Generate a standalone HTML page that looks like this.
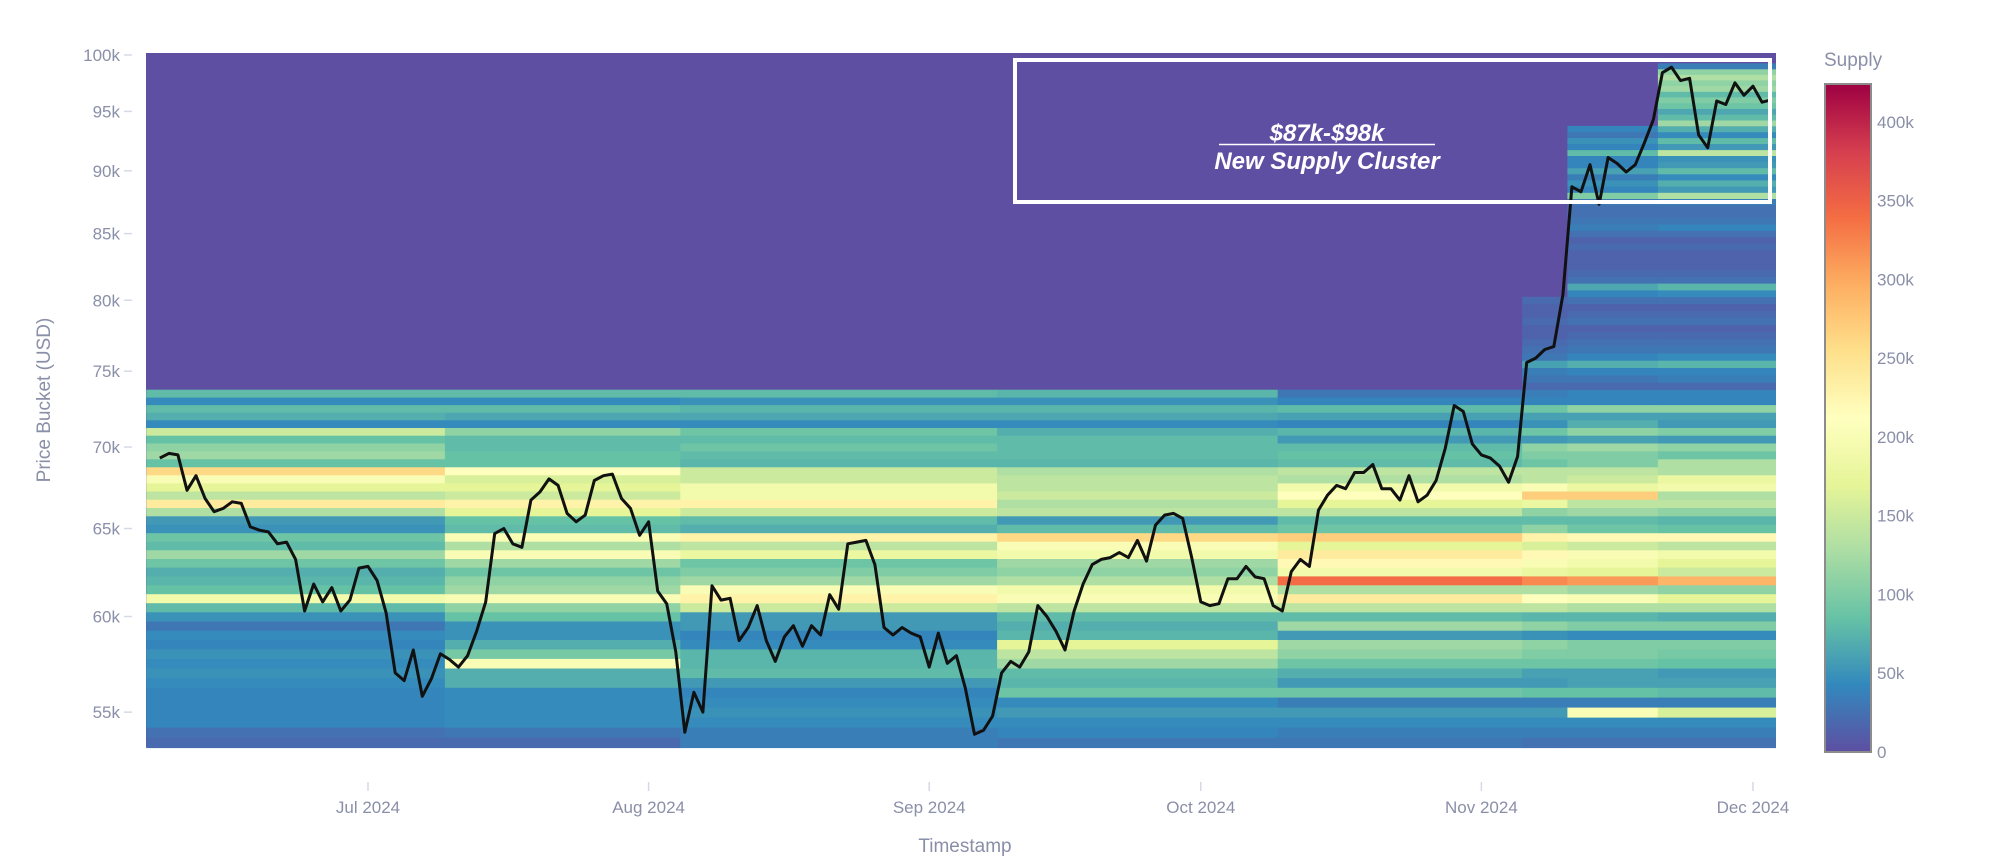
<!DOCTYPE html>
<html><head><meta charset="utf-8">
<style>
html,body{margin:0;padding:0;background:#fff;}
svg{display:block;font-family:"Liberation Sans",sans-serif;}
</style></head>
<body>
<svg id="chart" width="2000" height="867" viewBox="0 0 2000 867" xmlns="http://www.w3.org/2000/svg">
  <rect x="146" y="53" width="1630" height="694" fill="#5e4fa2"/>
  <g id="cells"></g>
  <g id="line"></g>
  <g id="yaxis"></g>
  <g id="xaxis"></g>
  <text transform="translate(50,400) rotate(-90)" text-anchor="middle" font-size="19" fill="#8a8fa8">Price Bucket (USD)</text>
  <text x="965" y="852" text-anchor="middle" font-size="19" fill="#8a8fa8">Timestamp</text>
  <g>
    <rect x="1015" y="60" width="755" height="142" fill="none" stroke="#fff" stroke-width="4"/>
    <text x="1327" y="141" text-anchor="middle" font-size="24" font-weight="bold" font-style="italic" fill="#fff">$87k-$98k</text>
    <line x1="1219" y1="144.5" x2="1435" y2="144.5" stroke="#fff" stroke-width="1.5"/>
    <text x="1327" y="169" text-anchor="middle" font-size="24" font-weight="bold" font-style="italic" fill="#fff">New Supply Cluster</text>
  </g>
  <g id="cbar">
    <text x="1824" y="66" font-size="19" fill="#8a8fa8">Supply</text>
  </g>
</svg>
<script>
// ---- data ----
const priceJun = [69.3,69.6,69.5,67.3,68.2,66.8,66.0,66.2,66.6,66.5,65.1,64.9,64.8,64.1,64.2,63.2,60.3,61.8,60.8,61.6,60.3,60.9,62.7];
const priceJul = [62.8,62.0,60.2,57.0,56.6,58.2,55.8,56.7,58.0,57.7,57.3,57.9,59.2,60.8,64.7,65.0,64.1,63.9,66.7,67.2,68.0,67.6,65.9,65.4,65.8,67.9,68.2,68.3,66.8,66.2,64.6];
const priceAug = [65.4,61.4,60.7,58.1,54.0,56.0,55.0,61.7,60.9,61.0,58.7,59.4,60.6,58.7,57.6,58.9,59.5,58.4,59.5,59.0,61.2,60.4,64.1,64.2,64.3,62.9,59.4,59.0,59.4,59.1,58.9];
const priceSep = [57.3,59.1,57.5,57.9,56.2,53.9,54.1,54.8,57.0,57.6,57.3,58.1,60.6,60.0,59.2,58.2,60.3,61.8,62.9,63.2,63.3,63.6,63.3,64.3,63.1,65.2,65.8,65.9,65.6,63.3];
const priceOct = [60.8,60.6,60.7,62.1,62.1,62.8,62.2,62.1,60.6,60.3,62.5,63.2,62.8,66.1,67.0,67.6,67.4,68.4,68.4,68.9,67.4,67.4,66.7,68.2,66.6,67.0,67.9,69.9,72.7,72.3,70.2];
const priceNov = [69.5,69.3,68.8,67.8,69.4,75.6,75.9,76.5,76.7,80.4,88.7,88.3,90.5,87.3,91.1,90.6,89.9,90.5,92.3,94.3,98.4,98.9,97.7,97.9,93.0,91.9,95.9,95.6,97.5,96.4];
const priceDec = [97.2,95.8,96.0];
const priceStart = '2024-06-08';

// heatmap: buckets (k USD) and supply (k) per period
const heatStart = '2024-06-07';
const heatEnd = '2024-12-03';
const periodStarts = ['2024-06-07','2024-07-10','2024-08-05','2024-09-09','2024-10-10','2024-11-06','2024-11-11','2024-11-21'];
const lowerBuckets = [53.5,54,54.5,55,55.5,56,56.5,57,57.5,58,58.5,59,59.5,60,60.5,61,61.5,62,62.5,63,63.5,64,64.5,65,65.5,66,66.5,67,67.5,68,68.5,69,69.5,70,70.5,71,71.5,72,72.5,73,73.5];
const lowS0 = [20,25,40,40,40,40,45,50,45,50,40,45,30,50,80,190,85,75,70,90,120,80,90,50,55,130,240,140,170,200,260,85,120,110,85,150,45,70,80,45,80];
const lowS1 = [20,30,45,45,45,45,70,70,200,95,70,50,50,85,110,200,120,110,90,120,200,130,200,80,85,170,230,150,170,160,210,85,85,80,80,110,45,65,80,45,80];
const lowS2 = [35,35,45,50,45,40,55,80,75,75,45,40,55,55,150,230,200,120,100,90,180,140,230,70,80,150,230,190,190,150,150,75,80,90,80,90,45,65,75,50,80];
const lowS3 = [30,40,45,55,45,90,75,80,120,140,170,75,70,80,140,200,190,130,110,120,190,200,260,80,55,140,130,150,140,140,130,75,80,80,80,70,45,65,75,50,75];
const lowS4 = [30,35,45,55,35,90,55,70,90,110,120,55,120,80,140,240,130,340,190,220,240,170,270,90,80,140,170,210,190,130,140,80,85,80,55,75,40,60,80,40,30];
const lowS5 = [25,35,45,55,35,85,55,60,90,100,110,50,110,75,140,210,130,320,180,200,220,160,230,110,80,110,180,270,200,140,140,90,100,110,55,90,50,60,90,40,35];
const lowS6 = [25,35,45,200,35,85,60,60,90,100,100,45,100,75,130,200,120,310,170,190,200,150,220,90,80,120,140,270,180,150,140,100,100,120,60,110,70,60,110,40,40];
const lowS7 = [25,35,45,160,35,80,60,55,85,95,100,45,100,70,130,170,110,290,150,170,190,140,220,85,75,110,140,130,190,180,130,130,90,110,55,100,55,60,110,40,40];
const upperBuckets = [74,74.5,75,75.5,76,76.5,77,77.5,78,78.5,79,79.5,80,80.5,81,81.5,82,82.5,83,83.5,84,84.5,85,85.5,86,86.5,87,87.5,88,88.5,89,89.5,90,90.5,91,91.5,92,92.5,93,93.5,94,94.5,95,95.5,96,96.5,97,97.5,98,98.5,99,99.5];
const upS5 = [20,30,35,60,30,25,20,15,15,20,15,15,20,0,0,0,0,0,0,0,0,0,0,0,0,0,0,0,0,0,0,0,0,0,0,0,0,0,0,0,0,0,0,0,0,0,0,0,0,0,0,0];
const upS6 = [20,30,40,70,40,30,25,20,15,25,20,15,25,40,65,25,20,15,15,15,20,15,25,35,30,25,25,30,100,40,50,35,60,40,40,80,40,50,30,40,0,0,0,0,0,0,0,0,0,0,0,0];
const upS7 = [20,35,40,75,45,30,25,20,15,25,20,15,25,45,75,25,20,15,15,15,20,15,25,40,30,25,25,35,130,55,70,45,80,55,50,140,55,80,45,70,120,80,65,90,100,80,120,110,130,110,35,0];

const yTicks = [55,60,65,70,75,80,85,90,95,100];
const xTickDates = ['2024-07-01','2024-08-01','2024-09-01','2024-10-01','2024-11-01','2024-12-01'];
const xTickLabels = ['Jul 2024','Aug 2024','Sep 2024','Oct 2024','Nov 2024','Dec 2024'];
const cbTicks = [0,50,100,150,200,250,300,350,400];
const zMax = 424;

// ---- scales ----
const NS = 'http://www.w3.org/2000/svg';
const DAY = 86400000;
const origin = Date.UTC(2024,6,1);
function dayOf(s){const p=s.split('-');return (Date.UTC(+p[0],+p[1]-1,+p[2])-origin)/DAY;}
function xScale(d){return 368 + d*9.052;}
function yScale(k){return 55 + 2531*Math.log10(100/k);}
const spectral = ['#5e4fa2','#3288bd','#66c2a5','#abdda4','#e6f598','#ffffbf','#fee08b','#fdae61','#f46d43','#d53e4f','#9e0142'];
function hex(c){return [parseInt(c.slice(1,3),16),parseInt(c.slice(3,5),16),parseInt(c.slice(5,7),16)];}
function color(v){
  let t=Math.max(0,Math.min(1,v/zMax))*(spectral.length-1);
  let i=Math.min(spectral.length-2,Math.floor(t)),f=t-i;
  const a=hex(spectral[i]),b=hex(spectral[i+1]);
  return 'rgb('+a.map((x,j)=>Math.round(x+(b[j]-x)*f)).join(',')+')';
}
function mk(tag,attrs,parent){const e=document.createElementNS(NS,tag);for(const k in attrs)e.setAttribute(k,attrs[k]);parent.appendChild(e);return e;}

// ---- heatmap ----
const lowSeg=[lowS0,lowS1,lowS2,lowS3,lowS4,lowS5,lowS6,lowS7];
const upSeg=[null,null,null,null,null,upS5,upS6,upS7];
const cellsG=document.getElementById('cells');
const pStarts=periodStarts.map(dayOf);
const hs=dayOf(heatStart), he=dayOf(heatEnd);
for(let s=0;s<pStarts.length;s++){
  const d0=Math.max(hs,pStarts[s]);
  const d1=(s+1<pStarts.length?pStarts[s+1]:he+1);
  const x0=xScale(d0-0.5), x1=xScale(d1-0.5);
  const rowsets=[[lowerBuckets,lowSeg[s]],[upperBuckets,upSeg[s]]];
  for(const [bk,vals] of rowsets){
    if(!vals) continue;
    for(let i=0;i<bk.length;i++){
      const v=vals[i]||0; if(v<=0) continue;
      const yt=yScale(bk[i]+0.25), yb=yScale(bk[i]-0.25);
      const r=mk('rect',{x:x0.toFixed(1),y:yt.toFixed(1),width:(x1-x0+0.4).toFixed(1),height:(yb-yt+0.4).toFixed(1),fill:color(v)},cellsG);
      
      
    }
  }
}

// ---- price line ----
const prices=[].concat(priceJun,priceJul,priceAug,priceSep,priceOct,priceNov,priceDec);
const p0=dayOf(priceStart);
const pts=prices.map((p,i)=>xScale(p0+i).toFixed(1)+','+yScale(p).toFixed(1)).join(' ');
const pl=mk('polyline',{points:pts,fill:'none',stroke:'#111','stroke-width':3,'stroke-linejoin':'round'},document.getElementById('line'));



// ---- y axis ----
const yg=document.getElementById('yaxis');
yTicks.forEach(k=>{
  const y=yScale(k);
  const tl=mk('line',{x1:124,x2:132,y1:y,y2:y,stroke:'#d6d9e6','stroke-width':1.5},yg);
  
  
  const t=mk('text',{x:120,y:y+6,'text-anchor':'end','font-size':17,fill:'#8a8fa8'},yg);
  t.textContent=k+'k';
  
  
});

// ---- x axis ----
const xg=document.getElementById('xaxis');
xTickDates.forEach((d,i)=>{
  const x=xScale(dayOf(d));
  const tl=mk('line',{x1:x,x2:x,y1:782,y2:791,stroke:'#d6d9e6','stroke-width':1.5},xg);
  
  
  const t=mk('text',{x:x,y:813,'text-anchor':'middle','font-size':17,fill:'#8a8fa8'},xg);
  t.textContent=xTickLabels[i];
  
  
});

// ---- colorbar ----
const cg=document.getElementById('cbar');
const defs=mk('defs',{},cg);
const grad=mk('linearGradient',{id:'cbg',x1:0,y1:1,x2:0,y2:0},defs);
spectral.forEach((c,i)=>mk('stop',{offset:(i/(spectral.length-1)),'stop-color':c},grad));
const cbTop=84, cbBot=752;
const cbr=mk('rect',{x:1825,y:cbTop,width:46,height:cbBot-cbTop,fill:'url(#cbg)',stroke:'#8c8c8c','stroke-width':2},cg);


cbTicks.forEach(v=>{
  const y=cbBot-(cbBot-cbTop)*v/zMax;
  const t=mk('text',{x:1877,y:y+6,'font-size':17,fill:'#8a8fa8'},cg);
  t.textContent=v===0?'0':v+'k';
  
  
});
</script>
</body></html>
